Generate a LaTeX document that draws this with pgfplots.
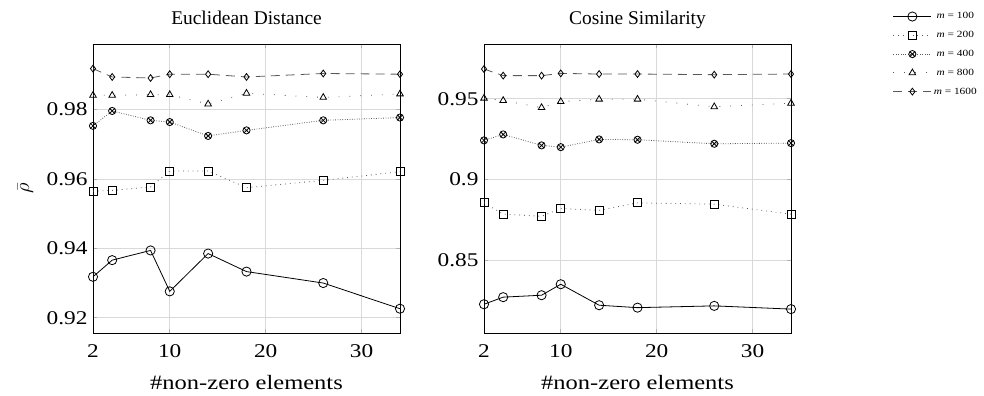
\documentclass[border=0pt]{standalone}
\usepackage{fontspec}
\setmainfont{Liberation Serif}
\newfontfamily\wide[FakeStretch=1.2]{Liberation Serif}
\usepackage{pgfplots}
\pgfplotsset{compat=1.18}

\pgfplotstableread{
x    a      b      c      d      e
2    0.9318 0.9565 0.9753 0.9841 0.9918
4    0.9366 0.9567 0.9796 0.9841 0.9894
8    0.9394 0.9577 0.9769 0.9843 0.9891
10   0.9276 0.9623 0.9764 0.9843 0.9902
14   0.9385 0.9623 0.9724 0.9816 0.9902
18   0.9333 0.9575 0.9740 0.9847 0.9894
26   0.9300 0.9596 0.9769 0.9835 0.9904
34   0.9226 0.9621 0.9777 0.9845 0.9902
}\euc

\pgfplotstableread{
x    a      b      c      d      e
2    0.8228 0.8857 0.9243 0.9504 0.9685
4    0.8272 0.8786 0.9280 0.9490 0.9644
8    0.8284 0.8773 0.9212 0.9446 0.9644
10   0.8352 0.8821 0.9201 0.9483 0.9658
14   0.8222 0.8810 0.9249 0.9498 0.9654
18   0.8207 0.8856 0.9247 0.9498 0.9654
26   0.8218 0.8848 0.9222 0.9451 0.9650
34   0.8198 0.8786 0.9226 0.9473 0.9654
}\cos

\pgfplotsset{
  myaxis/.style={
    scale only axis,
    width=307bp, height=289bp,
    xmin=2, xmax=34,
    xtick={2,10,20,30},
    grid=major,
    major grid style={gray!30, line width=0.9bp},
    tick style={gray!60, line width=0.8bp},
    axis line style={black, line width=0.8bp},
    tick align=inside,
    font=\wide\fontsize{19.5}{23}\selectfont,
    /pgf/number format/assume math mode=true,
    title style={font=\normalfont\fontsize{19.5}{23}\selectfont, at={(0.5,1)}, anchor=base, yshift=14bp},
    xlabel style={font=\wide\fontsize{20.5}{24}\selectfont, at={(0.5,0)}, anchor=base, yshift=-56bp},
    xticklabel style={anchor=base, yshift=-24.5bp},
    yticklabel style={xshift=-2bp},
    xlabel={\#non-zero elements},
  },
  s100/.style={black, line width=0.8bp, mark=o, mark size=4.6bp, mark options={solid, fill=white, black}},
  s200/.style={black!65, line width=0.8bp, dash pattern=on 0.8bp off 4bp, mark=square, mark size=4bp, mark options={solid, fill=white, black}},
  s400/.style={black!65, line width=0.8bp, dash pattern=on 0.8bp off 1.6bp, mark=otimes, mark size=3.6bp, mark options={solid, fill=white, black}},
  s800/.style={black!65, line width=0.8bp, dash pattern=on 0.8bp off 10bp, mark=triangle, mark size=3.8bp, mark options={solid, fill=white, black}},
  s1600/.style={black!65, line width=0.8bp, dash pattern=on 9bp off 6bp, mark=diamond, mark size=3.4bp, mark options={solid, fill=white, black}},
}

\begin{document}
\begin{tikzpicture}
\begin{axis}[myaxis, name=ax1,
  title={Euclidean Distance},
  ymin=0.9156, ymax=0.9989,
  ytick={0.92,0.94,0.96,0.98},
  yticklabel style={/pgf/number format/fixed, /pgf/number format/precision=2, /pgf/number format/fixed zerofill},
  ylabel={$\bar{\rho}$},
  ylabel style={at={(-0.22,0.5)}, anchor=center},
]
\addplot[s100] table[x=x,y=a]{\euc};
\addplot[s200] table[x=x,y=b]{\euc};
\addplot[s400] table[x=x,y=c]{\euc};
\addplot[s800] table[x=x,y=d]{\euc};
\addplot[s1600] table[x=x,y=e]{\euc};
\end{axis}
\begin{axis}[myaxis, xshift=391bp, name=ax2,
  title={Cosine Similarity},
  ymin=0.805, ymax=0.984,
  ytick={0.85,0.9,0.95},
  legend style={draw=none, fill=none, at={(1.622,1.123)}, anchor=north east,
    font=\wide\fontsize{9.5}{11}\selectfont, row sep=7bp,
    /tikz/every even column/.append style={column sep=4bp}},
  legend cell align=center,
  legend image code/.code={\draw[mark repeat=2,mark phase=2] plot coordinates {(0bp,0bp)(19bp,0bp)(38bp,0bp)};},
]
\addplot[s100] table[x=x,y=a]{\cos};
\addplot[s200] table[x=x,y=b]{\cos};
\addplot[s400] table[x=x,y=c]{\cos};
\addplot[s800] table[x=x,y=d]{\cos};
\addplot[s1600] table[x=x,y=e]{\cos};
\legend{\textit{m} = 100, \textit{m} = 200, \textit{m} = 400, \textit{m} = 800, \textit{m} = 1600}
\end{axis}
\path[use as bounding box] ([xshift=-93bp,yshift=-63bp]ax1.south west) rectangle ([xshift=193bp,yshift=44bp]ax2.north east);
\end{tikzpicture}
\end{document}
